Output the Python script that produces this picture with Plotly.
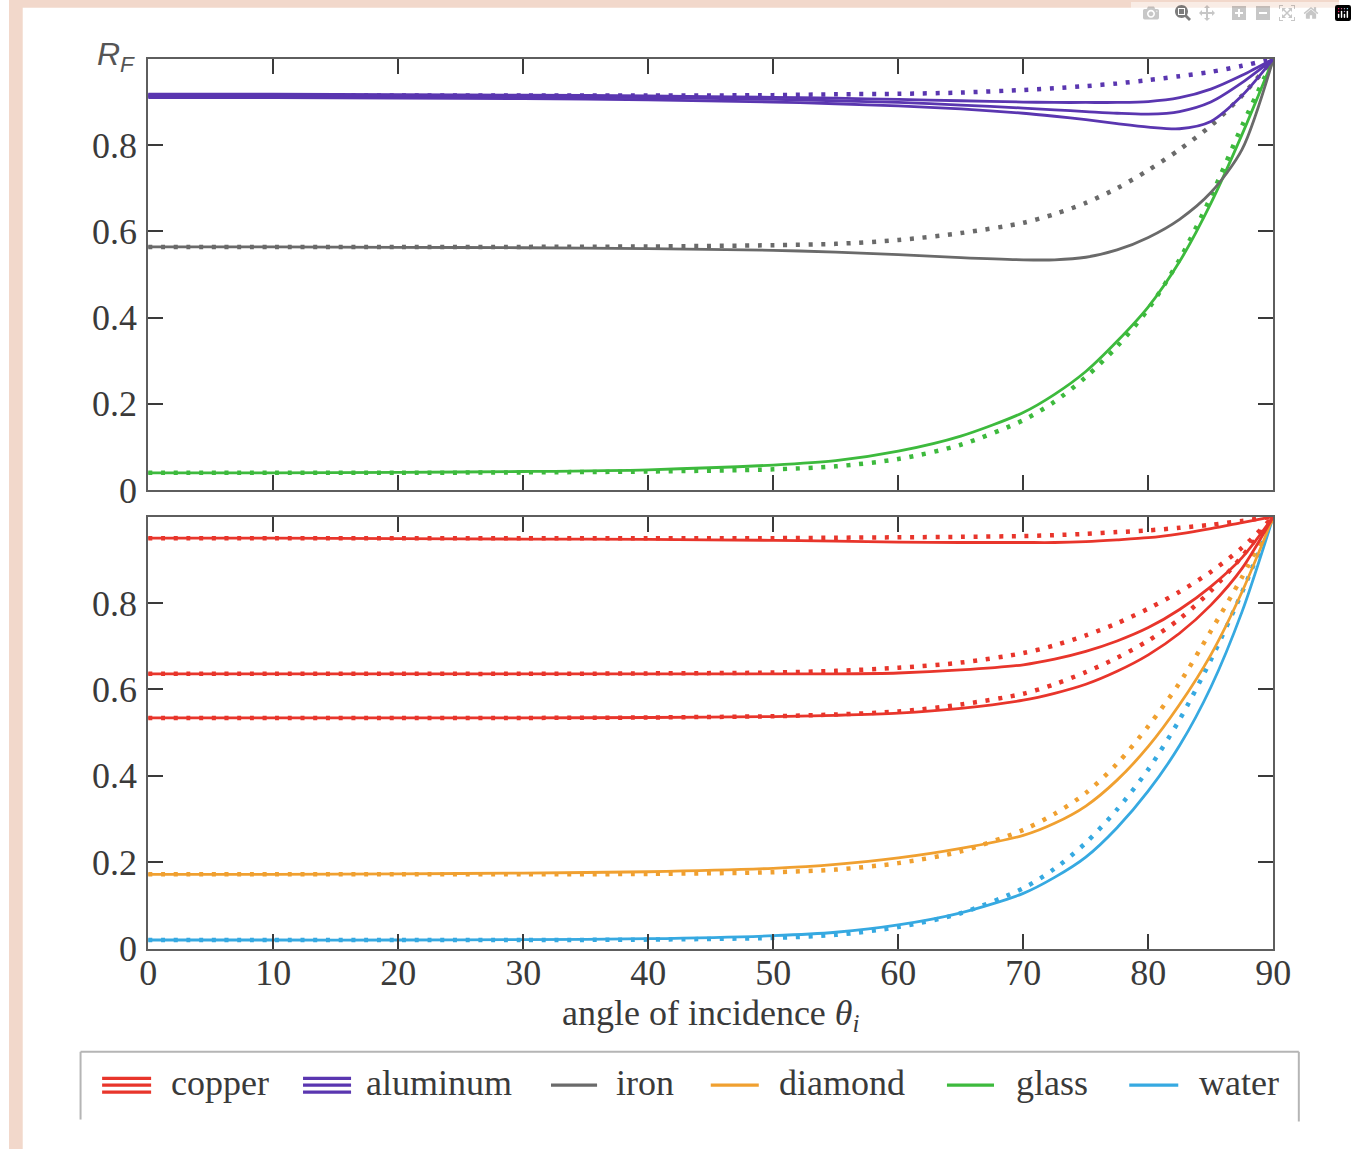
import plotly.graph_objects as go

# ---------------- data ----------------
theta = [0, 10, 20, 30, 40, 50, 55, 60, 65, 70, 72.5, 75, 77.5, 80, 82.5, 85, 87.5, 90]

# top panel
aluminum_1 = [0.918, 0.918, 0.917, 0.916, 0.914, 0.911, 0.909, 0.906, 0.903, 0.900, 0.899, 0.899, 0.899, 0.901, 0.910, 0.930, 0.962, 1.0]
aluminum_2 = [0.914, 0.914, 0.913, 0.912, 0.910, 0.906, 0.903, 0.899, 0.893, 0.886, 0.882, 0.878, 0.874, 0.872, 0.878, 0.900, 0.945, 1.0]
aluminum_3 = [0.910, 0.910, 0.909, 0.908, 0.905, 0.900, 0.896, 0.891, 0.884, 0.874, 0.867, 0.859, 0.850, 0.842, 0.838, 0.855, 0.915, 1.0]
aluminum_schlick = [0.915, 0.915, 0.915, 0.915, 0.915, 0.916, 0.918, 0.919, 0.922, 0.928, 0.932, 0.937, 0.943, 0.951, 0.960, 0.970, 0.984, 1.0]
iron = [0.564, 0.564, 0.563, 0.562, 0.560, 0.556, 0.552, 0.546, 0.539, 0.534, 0.534, 0.540, 0.557, 0.586, 0.628, 0.690, 0.790, 1.0]
iron_schlick = [0.564, 0.564, 0.564, 0.564, 0.565, 0.568, 0.571, 0.580, 0.596, 0.620, 0.640, 0.666, 0.700, 0.742, 0.790, 0.845, 0.915, 1.0]
glass = [0.040, 0.040, 0.041, 0.043, 0.047, 0.058, 0.068, 0.090, 0.125, 0.180, 0.222, 0.275, 0.345, 0.425, 0.530, 0.665, 0.825, 1.0]
glass_schlick = [0.040, 0.040, 0.040, 0.041, 0.043, 0.048, 0.055, 0.072, 0.105, 0.162, 0.205, 0.262, 0.333, 0.420, 0.535, 0.680, 0.845, 1.0]

# bottom panel
copper_1 = [0.950, 0.950, 0.949, 0.948, 0.947, 0.945, 0.943, 0.941, 0.940, 0.940, 0.940, 0.942, 0.946, 0.951, 0.960, 0.972, 0.986, 1.0]
copper_1_schlick = [0.950, 0.950, 0.950, 0.950, 0.950, 0.950, 0.951, 0.952, 0.953, 0.955, 0.957, 0.960, 0.964, 0.968, 0.974, 0.981, 0.990, 1.0]
copper_2 = [0.636, 0.636, 0.636, 0.636, 0.636, 0.636, 0.636, 0.638, 0.645, 0.657, 0.670, 0.688, 0.712, 0.743, 0.785, 0.838, 0.905, 1.0]
copper_2_schlick = [0.636, 0.636, 0.636, 0.636, 0.637, 0.639, 0.643, 0.650, 0.662, 0.684, 0.702, 0.725, 0.753, 0.787, 0.826, 0.872, 0.928, 1.0]
copper_3 = [0.534, 0.534, 0.534, 0.534, 0.535, 0.537, 0.540, 0.545, 0.556, 0.575, 0.591, 0.612, 0.642, 0.680, 0.730, 0.795, 0.880, 1.0]
copper_3_schlick = [0.534, 0.534, 0.534, 0.534, 0.535, 0.538, 0.542, 0.549, 0.565, 0.590, 0.612, 0.640, 0.673, 0.713, 0.763, 0.828, 0.908, 1.0]
diamond = [0.172, 0.172, 0.173, 0.175, 0.178, 0.186, 0.195, 0.210, 0.232, 0.262, 0.290, 0.330, 0.390, 0.468, 0.565, 0.680, 0.826, 1.0]
diamond_schlick = [0.172, 0.172, 0.172, 0.172, 0.173, 0.177, 0.183, 0.198, 0.225, 0.275, 0.312, 0.360, 0.428, 0.515, 0.615, 0.735, 0.860, 1.0]
water = [0.020, 0.020, 0.020, 0.021, 0.023, 0.030, 0.038, 0.055, 0.083, 0.128, 0.165, 0.212, 0.280, 0.365, 0.470, 0.605, 0.780, 1.0]
water_schlick = [0.020, 0.020, 0.020, 0.020, 0.021, 0.025, 0.032, 0.050, 0.082, 0.140, 0.185, 0.245, 0.322, 0.415, 0.530, 0.668, 0.825, 1.0]

x_ticks = [0, 10, 20, 30, 40, 50, 60, 70, 80, 90]
y_ticks = [0, 0.2, 0.4, 0.6, 0.8]
y_tick_text = ["0", "0.2", "0.4", "0.6", "0.8"]
legend_names = ["copper", "aluminum", "iron", "diamond", "glass", "water"]

# ---------------- styles ----------------
RED = "#e8352b"
PURPLE = "#5a36b0"
GRAY = "#6a6a6a"
ORANGE = "#f0a030"
GREEN = "#3dba3d"
BLUE = "#36a9e1"
legend_colors = [RED, PURPLE, GRAY, ORANGE, GREEN, BLUE]

W, H = 1357, 1170

def px(x):
    return x / W

def py(y):
    return 1 - y / H

SERIF = "Liberation Serif, Times New Roman, serif"
TXT = "#3a3a3a"
DOT = "4px,8.7px"

fig = go.Figure()

def add(y, color, axis, dotted=False):
    fig.add_trace(go.Scatter(
        x=theta, y=y, mode="lines",
        line=dict(color=color, width=4.5 if dotted else 2.8,
                  dash=DOT if dotted else "solid", shape="spline", smoothing=0.8),
        xaxis="x" + axis, yaxis="y" + axis, showlegend=False, hoverinfo="skip"))

# top panel (axis "2")
add(glass_schlick, GREEN, "2", dotted=True)
add(glass, GREEN, "2")
add(iron_schlick, GRAY, "2", dotted=True)
add(iron, GRAY, "2")
add(aluminum_schlick, PURPLE, "2", dotted=True)
add(aluminum_1, PURPLE, "2")
add(aluminum_2, PURPLE, "2")
add(aluminum_3, PURPLE, "2")

# bottom panel (axis "")
add(water_schlick, BLUE, "", dotted=True)
add(water, BLUE, "")
add(diamond_schlick, ORANGE, "", dotted=True)
add(diamond, ORANGE, "")
add(copper_3_schlick, RED, "", dotted=True)
add(copper_3, RED, "")
add(copper_2_schlick, RED, "", dotted=True)
add(copper_2, RED, "")
add(copper_1_schlick, RED, "", dotted=True)
add(copper_1, RED, "")

axis_common = dict(
    showline=True, linecolor="#5e5e5e", linewidth=2, mirror="ticks",
    ticks="inside", ticklen=15, tickwidth=2, tickcolor="#3a3a3a",
    showgrid=False, zeroline=False,
    tickfont=dict(family=SERIF, size=36, color=TXT),
)

x_dom = [px(142), px(1290)]
fig.update_layout(
    width=W, height=H,
    margin=dict(l=0, r=0, t=0, b=0),
    paper_bgcolor="white", plot_bgcolor="white",
    xaxis=dict(domain=x_dom, range=[0, 90], anchor="y", tickvals=x_ticks,
               ticklabelstandoff=-9,
               title=dict(text="angle of incidence <i>θ<sub>i</sub></i>",
                          font=dict(family=SERIF, size=36, color=TXT), standoff=6),
               **axis_common),
    yaxis=dict(domain=[py(966), py(526)], range=[0, 1], anchor="x",
               tickvals=y_ticks, ticktext=y_tick_text, ticklabelstandoff=2, **axis_common),
    xaxis2=dict(domain=x_dom, range=[0, 90], anchor="y2", tickvals=x_ticks,
                showticklabels=False, **axis_common),
    yaxis2=dict(domain=[py(499), py(60)], range=[0, 1], anchor="x2",
                tickvals=y_ticks, ticktext=y_tick_text, ticklabelstandoff=2, **axis_common),
)

shapes = []
BG = "#f2d8cb"
# pinkish border of the page (left and top)
shapes.append(dict(type="rect", xref="paper", yref="paper", x0=0, x1=px(14), y0=0, y1=1,
                   fillcolor=BG, line=dict(width=0), layer="below"))
shapes.append(dict(type="rect", xref="paper", yref="paper", x0=0, x1=1, y0=py(8), y1=1,
                   fillcolor=BG, line=dict(width=0), layer="below"))

# legend frame (top, left, right)
LC = "#b5b5b5"
shapes.append(dict(type="line", xref="paper", yref="paper", x0=px(73), x1=px(1316),
                   y0=py(1071), y1=py(1071), line=dict(color=LC, width=2)))
shapes.append(dict(type="line", xref="paper", yref="paper", x0=px(73), x1=px(73),
                   y0=py(1071), y1=py(1140), line=dict(color=LC, width=2)))
shapes.append(dict(type="line", xref="paper", yref="paper", x0=px(1316), x1=px(1316),
                   y0=py(1071), y1=py(1142), line=dict(color=LC, width=2)))

icon_x = [(95, 145), (300, 349), (553, 600), (716, 765), (957, 1005), (1143, 1193)]
text_x = [163, 362, 617, 784, 1025, 1212]
annotations = []
LY = 1105
for i, name in enumerate(legend_names):
    x0, x1 = icon_x[i]
    offs = [-7, 0, 7] if i < 2 else [0]
    for o in offs:
        shapes.append(dict(type="line", xref="paper", yref="paper", x0=px(x0), x1=px(x1),
                           y0=py(LY + o), y1=py(LY + o),
                           line=dict(color=legend_colors[i], width=3.2)))
    annotations.append(dict(xref="paper", yref="paper", x=px(text_x[i]), y=py(LY - 2),
                            xanchor="left", yanchor="middle", showarrow=False, text=name,
                            font=dict(family=SERIF, size=36, color=TXT)))

# R_F label
annotations.append(dict(xref="paper", yref="paper", x=px(109), y=py(58),
                        xanchor="center", yanchor="middle", showarrow=False,
                        text="<i>R<sub>F</sub></i>",
                        font=dict(family="Liberation Sans, Arial, sans-serif", size=32, color="#555555")))

fig.update_layout(shapes=shapes, annotations=annotations)

fig.write_html("out.html", post_script="document.body.style.margin='0px';")
